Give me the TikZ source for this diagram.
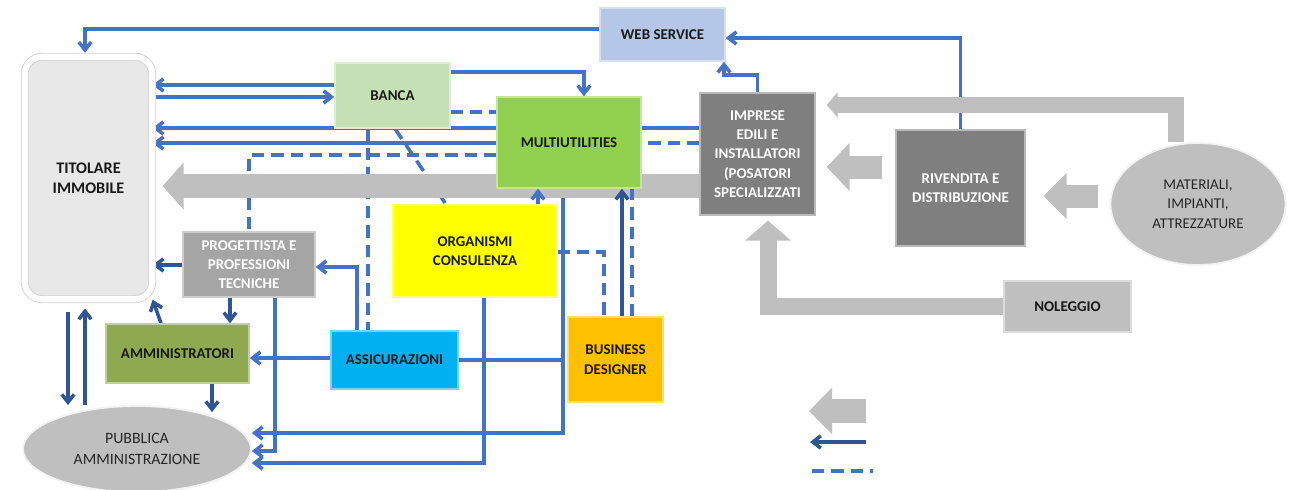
\documentclass[tikz,border=0pt]{standalone}
\usepackage{fontspec}
\setmainfont{Carlito}
\usetikzlibrary{arrows.meta,shapes.geometric,positioning,calc}
\pgfdeclarelayer{lines}
\pgfdeclarelayer{bands}
\pgfsetlayers{lines,bands,main}
\definecolor{linkblue}{HTML}{4472C4}
\definecolor{darkblue}{HTML}{2F5597}
\definecolor{bandgray}{HTML}{BFBFBF}
\definecolor{titgray}{HTML}{E8E8E8}
\definecolor{bancagreen}{HTML}{C5E0B4}
\definecolor{wsblue}{HTML}{B4C7E7}
\definecolor{multigreen}{HTML}{92D050}
\definecolor{impgray}{HTML}{7F7F7F}
\definecolor{proggray}{HTML}{A5A5A5}
\definecolor{ammgreen}{HTML}{8EA94F}
\definecolor{assicblue}{HTML}{00B0F0}
\definecolor{bdorange}{HTML}{FFC000}
\definecolor{orgyellow}{HTML}{FFFF00}
\newcommand{\diagfont}{\fontsize{8.5}{11}\selectfont}
\tikzset{
  box/.style={rectangle, fill=#1, draw=#1!55!white, line width=0.8pt, inner sep=1pt,
    text=black!90, font=\diagfont\bfseries},
  ell/.style={ellipse, fill=bandgray, draw=white!80!bandgray, line width=1pt, inner sep=0pt,
    text=black!85, font=\diagfont},
  bluelink/.style={draw=linkblue, line width=2pt},
  bluearrow/.style={bluelink, -{Straight Barb[length=4.5pt,width=7pt]}},
  darkarrow/.style={bluearrow, draw=darkblue},
  bluedash/.style={bluelink, dash pattern=on 7pt off 4pt},
  grayband/.style={draw=bandgray, line width=#1, line join=miter},
  bandtip/.style 2 args={arrows={-{Triangle[length=#1,width=#2]}}}
}
\begin{document}
\begin{tikzpicture}[x=0.02cm, y=-0.02cm, every text node part/.style={align=center}]
    \useasboundingbox (0,0) rectangle (1291,490);

    % boxes
    \node[rectangle, rounded corners=0.35cm, fill=titgray, draw=gray!35, line width=0.5pt,
      double=white, double distance=3.5pt, minimum width=2.55cm, minimum height=4.85cm,
      text=black!90, font=\fontsize{9.2}{11.5}\selectfont\bfseries] (tit) at (88.5,178) {TITOLARE\\IMMOBILE};
    \node[box=bancagreen, minimum width=2.3cm, minimum height=1.3cm] (banca) at (392.5,95.5) {BANCA};
    \node[box=wsblue, minimum width=2.5cm, minimum height=1.06cm] (ws) at (662.5,34.5) {WEB SERVICE};
    \node[box=multigreen, minimum width=2.88cm, minimum height=1.82cm] (multi) at (569,142.5) {MULTIUTILITIES};
    \node[box=impgray, text=white, minimum width=2.3cm, minimum height=2.44cm] (impr) at (757.5,154)
      {IMPRESE\\EDILI E\\INSTALLATORI\\(POSATORI\\SPECIALIZZATI};
    \node[box=impgray, text=white, minimum width=2.58cm, minimum height=2.32cm] (riv) at (960.5,188)
      {RIVENDITA E\\DISTRIBUZIONE};
    \node[ell, minimum width=3.5cm, minimum height=2.44cm] (mat) at (1198,204) {MATERIALI,\\IMPIANTI,\\ATTREZZATURE};
    \node[box=bandgray, minimum width=2.54cm, minimum height=1.02cm] (nol) at (1067.5,306.5) {NOLEGGIO};
    \node[box=orgyellow, minimum width=3.28cm, minimum height=1.84cm] (org) at (475,251) {ORGANISMI\\CONSULENZA};
    \node[box=proggray, text=white, minimum width=2.64cm, minimum height=1.3cm] (prog) at (249,264.5)
      {PROGETTISTA E\\PROFESSIONI\\TECNICHE};
    \node[box=ammgreen, minimum width=2.86cm, minimum height=1.18cm] (amm) at (177.5,353.5) {AMMINISTRATORI};
    \node[box=assicblue, minimum width=2.54cm, minimum height=1.16cm] (assic) at (394.5,360) {ASSICURAZIONI};
    \node[box=bdorange, minimum width=1.9cm, minimum height=1.7cm] (bd) at (615.5,359.5) {BUSINESS\\DESIGNER};
    \node[ell, minimum width=4.56cm, minimum height=1.72cm, font=\fontsize{9}{11.5}\selectfont] (pa) at (137,449) {PUBBLICA\\AMMINISTRAZIONE};

    % legend
    \coordinate (lgband) at (866,411);
    \coordinate (lgbandtip) at (809,411);
    \coordinate (lgarrow) at (866,442);
    \coordinate (lgarrowtip) at (810,442);
    \coordinate (lgdash) at (812,471);
    \coordinate (lgdashend) at (873,471);

    % material flows
    \begin{pgfonlayer}{bands}
    \draw[grayband=0.48cm, bandtip={0.42cm}{0.92cm}, shorten >=0.2cm] (impr.west |- 0,186) -- (tit.east |- 0,186);
    \draw[grayband=0.33cm, bandtip={0.22cm}{0.5cm}, shorten >=0.22cm] (mat.north -| 1176,0) |- (impr.east |- 0,105);
    \draw[grayband=0.46cm, bandtip={0.46cm}{0.94cm}, shorten <=0.26cm, shorten >=0.22cm] (riv.west |- 0,167) -- (impr.east |- 0,167);
    \draw[grayband=0.46cm, bandtip={0.46cm}{0.9cm}, shorten <=0.24cm, shorten >=0.36cm] (mat.west |- 0,196) -- (riv.east |- 0,196);
    \draw[grayband=0.34cm, bandtip={0.4cm}{0.9cm}, shorten >=0.1cm] (nol.west) -| (impr.south -| 768,0);
    \draw[grayband=0.48cm, bandtip={0.46cm}{0.9cm}] (lgband) -- (lgbandtip);
    \end{pgfonlayer}

    % information flows
    \begin{pgfonlayer}{lines}
    \draw[bluearrow, shorten >=2pt] (ws.west |- 0,29) -| (tit.north -| 85,0);
    \draw[bluearrow] (banca.west |- 0,85) -- (tit.east |- 0,85);
    \draw[bluearrow] (tit.east |- 0,97) -- (banca.west |- 0,97);
    \draw[bluearrow] (impr.west |- 0,128) -- (tit.east |- 0,128);
    \draw[bluearrow] (multi.west |- 0,143) -- (tit.east |- 0,143);
    \draw[bluedash] (impr.west |- 0,143) -- (multi.east |- 0,143);
    \draw[bluedash] (multi.west |- 0,155) -| (prog.north);
    \draw[bluedash] (banca.east |- 0,112) -- (multi.west |- 0,112);
    \draw[bluearrow] (banca.east |- 0,72) -| (multi.north -| 584,0);
    \draw[bluedash] (banca.south -| 368,0) -- (assic.north -| 368,0);
    \draw[bluedash] (banca.south -| 395,0) -- (org.north -| 446,0);
    \draw[bluearrow] (multi.south -| 563,0) |- (pa.east |- 0,433);
    \draw[bluelink] (assic.east) -- (assic.east -| 563,0);
    \draw[bluedash] (org.east |- 0,252) -| (bd.north -| 604,0);
    \draw[bluearrow] (org.south -| 484,0) |- (pa.east |- 0,463);
    \draw[bluearrow] (prog.south -| 275,0) |- (pa.east |- 0,451);
    \draw[bluearrow] (assic.west |- 0,358) -- (amm.east |- 0,358);
    \draw[bluearrow] (assic.north -| 357,0) |- (prog.east |- 0,267);
    \draw[bluearrow] (impr.north) -- (impr.north |- 0,75) -| (ws.south -| 724,0);
    \draw[bluearrow] (riv.north) |- (ws.east |- 0,38);
    \draw[darkarrow] (prog.west |- 0,265) -- (tit.east |- 0,265);
    \draw[darkarrow] (prog.south -| 230,0) -- (amm.north -| 230,0);
    \draw[darkarrow] (amm.north -| 161,0) -- (tit.south east);
    \draw[darkarrow, shorten >=-4pt] (amm.south -| 212,0) -- (pa.north -| 212,0);
    \draw[darkarrow, shorten <=7pt] (tit.south -| 68,0) -- (pa.north -| 68,0);
    \draw[darkarrow, shorten >=5pt] (pa.north -| 85,0) -- (tit.south -| 85,0);
    \draw[bluedash] (lgdash) -- (lgdashend);
    \draw[darkarrow] (lgarrow) -- (lgarrowtip);
    \end{pgfonlayer}

    % into multiutilities, over the band
    \draw[bluearrow] (org.north -| 538,0) -- (multi.south -| 538,0);
    \draw[darkarrow] (bd.north -| 622,0) -- (multi.south -| 622,0);
    \draw[bluedash] (bd.north -| 632,0) -- (multi.south -| 632,0);
\end{tikzpicture}
\end{document}
